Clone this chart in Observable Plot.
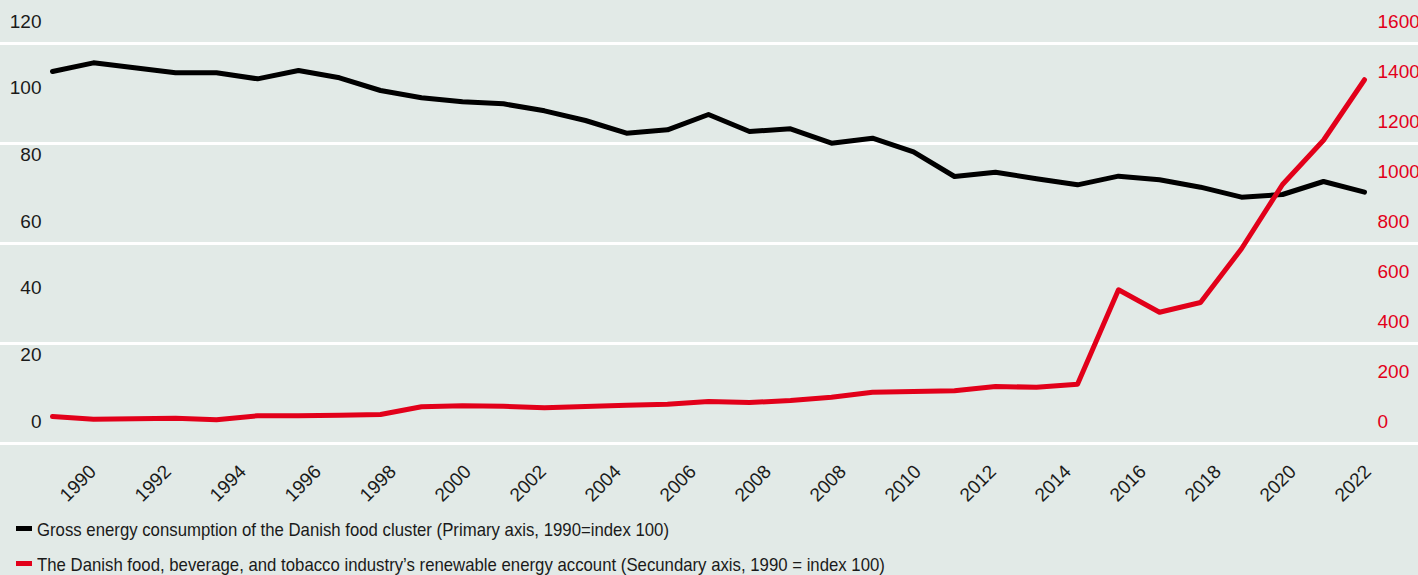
<!DOCTYPE html>
<html>
<head>
<meta charset="utf-8">
<script src="https://cdn.jsdelivr.net/npm/d3@7"></script>
<script src="https://cdn.jsdelivr.net/npm/@observablehq/plot@0.6"></script>
<style>
  html, body { margin: 0; padding: 0; background: #e2eae7; overflow: hidden; width: 1418px; height: 575px; }
  .wrap { position: relative; width: 1418px; height: 575px; font-family: "Liberation Sans", Arial, sans-serif; color: #1a1a1a; }
  #main { position: absolute; left: 0; top: 0; }
  #xaxis { position: absolute; left: 0; top: 450px; }
  #legend { position: absolute; left: 16px; top: 512px; font-size: 19px; line-height: 35px; white-space: nowrap; }
  .sw { display: inline-block; width: 16px; height: 5px; vertical-align: 5px; margin-right: 5px; }
  .lt { display: inline-block; transform: scaleX(0.882); transform-origin: 0 50%; }
  svg { overflow: visible; }
</style>
</head>
<body>
<div class="wrap">
  <div id="main"></div>
  <div id="xaxis"></div>
  <div id="legend"></div>
</div>
<script>
const FONT = '"Liberation Sans", Arial, sans-serif';
const RED = "#e2001a";

const years = [1990,1991,1992,1993,1994,1995,1996,1997,1998,1999,2000,2001,2002,2003,2004,2005,2006,2007,2008,2009,2010,2011,2012,2013,2014,2015,2016,2017,2018,2019,2020,2021,2022];
const grossEnergy = [111.6,114.2,112.7,111.2,111.2,109.4,111.9,109.7,105.9,103.7,102.5,101.9,99.8,96.9,93.1,94.1,98.7,93.6,94.4,90.1,91.6,87.5,80.1,81.4,79.4,77.6,80.2,79.1,76.9,73.9,74.7,78.6,75.4];
const renewableAccount = [108,97,99,101,95,111,111,113,116,147,151,149,143,148,153,157,168,164,172,185,205,208,211,228,225,237,615,525,564,779,1036,1213,1455];

const xTickLabels = ["1990","1992","1994","1996","1998","2000","2002","2004","2006","2008","2008","2010","2012","2014","2016","2018","2020","2022"];
const leftTicks = [0,20,40,60,80,100,120];
const rightTicks = [0,200,400,600,800,1000,1200,1400,1600];
const gridTicks = [0,400,800,1200,1600];

const seriesLabels = [
  "Gross energy consumption of the Danish food cluster (Primary axis, 1990=index 100)",
  "The Danish food, beverage, and tobacco industry’s renewable energy account (Secundary axis, 1990 = index 100)"
];

// secondary axis mapped onto the primary scale
const toLeft = d3.scaleLinear([0,1600],[0,120]);

const grossData = years.map((y,i) => ({year: y, value: grossEnergy[i]}));
const renewData = years.map((y,i) => ({year: y, value: toLeft(renewableAccount[i])}));

const main = Plot.plot({
  width: 1418, height: 450,
  marginLeft: 52, marginRight: 54, marginTop: 43, marginBottom: 7,
  style: {background: "transparent", overflow: "visible", fontFamily: FONT, fontSize: "19px", color: "#1a1a1a"},
  x: {domain: [1990, 2022], axis: null},
  y: {domain: [0, 120], axis: null, label: null},
  marks: [
    Plot.ruleY(gridTicks.map(toLeft), {stroke: "#ffffff", strokeWidth: 3, insetLeft: -52, insetRight: -54}),
    Plot.axisY(leftTicks, {anchor: "left", tickSize: 0, tickPadding: 11, dy: -22, fontSize: 19, fill: "#1a1a1a", label: null}),
    Plot.axisY(rightTicks.map(toLeft), {anchor: "right", tickSize: 0, tickPadding: 13, dy: -22, fontSize: 19, fill: RED, label: null,
      tickFormat: d => String(Math.round(toLeft.invert(d)))}),
    Plot.line(grossData, {x: "year", y: "value", stroke: "#000000", strokeWidth: 5}),
    Plot.line(renewData, {x: "year", y: "value", stroke: RED, strokeWidth: 5})
  ]
});
document.getElementById("main").appendChild(main);

const xaxis = Plot.plot({
  width: 1418, height: 70,
  marginLeft: 47, marginRight: 6, marginTop: 0, marginBottom: 70,
  style: {background: "transparent", overflow: "visible", fontFamily: FONT, fontSize: "19px", color: "#1a1a1a"},
  x: {type: "band", domain: d3.range(xTickLabels.length), padding: 0, axis: null, label: null},
  marks: [
    Plot.axisX({anchor: "bottom", tickRotate: -45, tickSize: 0, tickPadding: 18, fontSize: 19, fill: "#1a1a1a", label: null,
      tickFormat: i => xTickLabels[i]})
  ]
});
document.getElementById("xaxis").appendChild(xaxis);

const legend = document.getElementById("legend");
[["#000000", seriesLabels[0]], [RED, seriesLabels[1]]].forEach(([c, t]) => {
  const row = document.createElement("div");
  const sw = document.createElement("span");
  sw.className = "sw"; sw.style.background = c;
  const tx = document.createElement("span");
  tx.className = "lt"; tx.textContent = t;
  row.appendChild(sw);
  row.appendChild(tx);
  legend.appendChild(row);
});
</script>
</body>
</html>
